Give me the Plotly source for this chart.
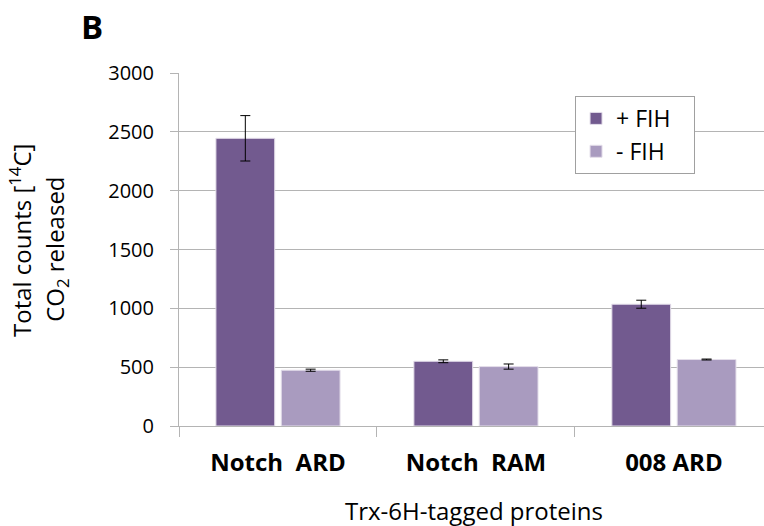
import plotly.graph_objects as go

# Constructs assayed (x categories)
proteins = ["Notch  ARD", "Notch  RAM", "008 ARD"]

# Total [14C]CO2 counts released, with and without FIH
plus_fih = [2445, 550, 1035]
plus_fih_err = [193, 12, 34]
minus_fih = [474, 505, 565]
minus_fih_err = [9, 22, 4]

y_ticks = [0, 500, 1000, 1500, 2000, 2500, 3000]

FONT = "Open Sans, Liberation Sans, sans-serif"
DARK = "#725A8F"
LIGHT = "#A99BBF"
EDGE = "#E4DEEA"
GRID = "#B4B4B4"

fig = go.Figure()
fig.add_trace(go.Bar(
    name="+ FIH&nbsp;&nbsp;&nbsp;", x=proteins, y=plus_fih,
    marker=dict(color=DARK, line=dict(color=EDGE, width=1)),
    error_y=dict(type="data", array=plus_fih_err, color="black", thickness=1, width=5),
))
fig.add_trace(go.Bar(
    name="- FIH", x=proteins, y=minus_fih,
    marker=dict(color=LIGHT, line=dict(color=EDGE, width=1)),
    error_y=dict(type="data", array=minus_fih_err, color="black", thickness=1, width=5),
))

fig.update_layout(
    width=764, height=526,
    margin=dict(l=179, r=0, t=73, b=100),
    paper_bgcolor="white", plot_bgcolor="white",
    barmode="group", bargap=0.34, bargroupgap=0.1,
    font=dict(family=FONT, color="black"),
    showlegend=True,
    legend=dict(
        x=0.677, y=0.935, xanchor="left", yanchor="top",
        bgcolor="white", bordercolor="#A0A0A0", borderwidth=1,
        font=dict(size=23, family=FONT),
        tracegroupgap=8,
    ),
    xaxis=dict(
        type="category", range=[-0.5, 2.455],
        showline=True, linecolor=GRID, linewidth=1,
        ticks="outside", tickson="boundaries", ticklen=10, tickcolor=GRID,
        tickfont=dict(size=24, family=FONT, weight="bold"),
        ticklabelstandoff=15,
        showgrid=False, zeroline=False,
    ),
    yaxis=dict(
        range=[0, 3000], tickvals=y_ticks,
        showline=True, linecolor=GRID, linewidth=1,
        ticks="outside", ticklen=8, tickcolor=GRID,
        tickfont=dict(size=20, family=FONT),
        ticklabelstandoff=12,
        showgrid=True, gridcolor=GRID, gridwidth=1,
        zeroline=False,
    ),
)

# Axis titles and panel letter
fig.add_annotation(
    text="Trx-6H-tagged proteins", xref="paper", yref="paper",
    x=0.504, y=0, yshift=-84, xanchor="center", yanchor="middle",
    showarrow=False, font=dict(size=24, family=FONT),
)
fig.add_annotation(
    text="Total counts [<sup>14</sup>C]", xref="paper", yref="paper",
    x=(20 - 179) / 585, y=0.524, xanchor="center", yanchor="middle",
    textangle=-90, showarrow=False, font=dict(size=24, family=FONT),
)
fig.add_annotation(
    text="CO<sub>2</sub> released", xref="paper", yref="paper",
    x=(56 - 179) / 585, y=0.499, xanchor="center", yanchor="middle",
    textangle=-90, showarrow=False, font=dict(size=24, family=FONT),
)
fig.add_annotation(
    text="<b>B</b>", xref="paper", yref="paper",
    x=(91.7 - 179) / 585, y=(426 - 27) / 353, xanchor="center", yanchor="middle",
    showarrow=False, font=dict(size=33, family=FONT),
)

fig.write_html("out.html")
